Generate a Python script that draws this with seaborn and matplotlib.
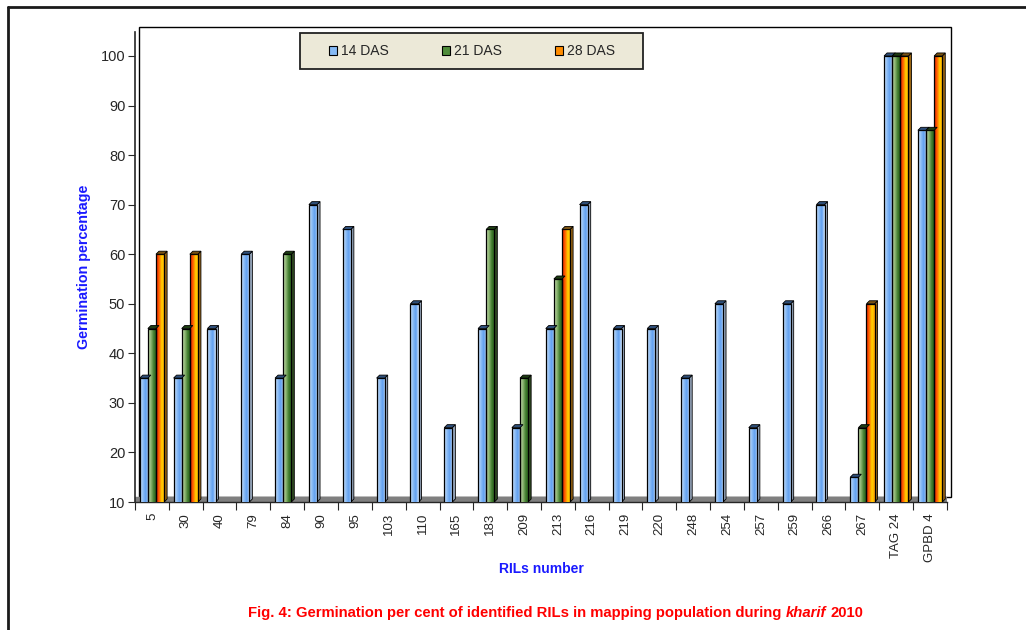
import numpy as np
import pandas as pd
import matplotlib
matplotlib.use("Agg")
import matplotlib.pyplot as plt
import matplotlib.transforms as mtransforms
from matplotlib.colors import LinearSegmentedColormap
from matplotlib.patches import Patch, Rectangle, Polygon
from matplotlib.lines import Line2D
import seaborn as sns

# ---- data -------------------------------------------------------------
rils = ["5", "30", "40", "79", "84", "90", "95", "103", "110", "165", "183",
        "209", "213", "216", "219", "220", "248", "254", "257", "259", "266",
        "267", "TAG 24", "GPBD 4"]
das14 = [35, 35, 45, 60, 35, 70, 65, 35, 50, 25, 45, 25, 45, 70, 45, 45, 35,
         50, 25, 50, 70, 15, 100, 85]
das21 = [45, 45, np.nan, np.nan, 60, np.nan, np.nan, np.nan, np.nan, np.nan,
         65, 35, 55, np.nan, np.nan, np.nan, np.nan, np.nan, np.nan, np.nan,
         np.nan, 25, 100, 85]
das28 = [60, 60, np.nan, np.nan, np.nan, np.nan, np.nan, np.nan, np.nan,
         np.nan, np.nan, np.nan, 65, np.nan, np.nan, np.nan, np.nan, np.nan,
         np.nan, np.nan, np.nan, 50, 100, 100]
series = ["14 DAS", "21 DAS", "28 DAS"]
yticks = [10, 20, 30, 40, 50, 60, 70, 80, 90, 100]

df = pd.DataFrame({"RIL": rils, series[0]: das14, series[1]: das21, series[2]: das28})
long = df.melt(id_vars="RIL", var_name="Stage", value_name="Germination")

# ---- style ------------------------------------------------------------
sns.set_style("white")
plt.rcParams["font.family"] = ["Liberation Sans", "DejaVu Sans"]

solid = ["#86baf5", "#4f8c3a", "#ff8c00"]
gradients = [
    ["#d2e5fb", "#8dbdf5", "#5f9ff0", "#d8e9fc"],
    ["#cadfb5", "#8cb572", "#3e7a2c", "#2a5e1c"],
    ["#e01800", "#ff6000", "#ffd400", "#ff9a00"],
]
top_cols = ["#2e4f7a", "#1d3d12", "#7a5212"]
side_cols = ["#9aaac0", "#2f4a22", "#9a6512"]
ymin, ymax = 10, 10 + 470 / 4.956
depth = 3  # pixel depth of the bar faces

fig = plt.figure(figsize=(10.26, 6.30), dpi=100)
ax = fig.add_axes([135 / 1026, 1 - 502 / 630, 812 / 1026, 470 / 630])

sns.barplot(data=long, x="RIL", y="Germination", hue="Stage",
            hue_order=series, order=rils, palette=solid, width=0.72,
            gap=0, edgecolor="black", linewidth=0.9, saturation=1,
            legend=False, ax=ax, zorder=3)

ax.set_ylim(ymin, ymax)
ax.set_xlim(-0.5, len(rils) - 0.5)


def shifted(xd, yd):
    """Point (xd, yd) moved by the face depth up and to the right."""
    px, py = ax.transData.transform((xd, yd))
    return ax.transData.inverted().transform((px + depth, py + depth))


# gradient fill inside each bar, plus its top and side faces
for container, cols, tc, sc in zip(ax.containers, gradients, top_cols, side_cols):
    cmap = LinearSegmentedColormap.from_list("g", cols)
    grad = np.linspace(0, 1, 64)[np.newaxis, :]
    for bar in container:
        h = bar.get_height()
        if not np.isfinite(h) or h <= ymin:
            continue
        x, w = bar.get_x(), bar.get_width()
        im = ax.imshow(grad, extent=[x, x + w, ymin, h], aspect="auto",
                       cmap=cmap, zorder=2.9, interpolation="bilinear")
        im.set_clip_path(bar)
        bar.set_facecolor("none")
        side = [(x + w, ymin), (x + w, h), shifted(x + w, h), shifted(x + w, ymin)]
        top = [(x, h), (x + w, h), shifted(x + w, h), shifted(x, h)]
        ax.add_patch(Polygon(side, closed=True, facecolor=sc, edgecolor="black",
                             linewidth=0.6, zorder=2.8))
        ax.add_patch(Polygon(top, closed=True, facecolor=tc, edgecolor="black",
                             linewidth=0.6, zorder=3.1, clip_on=False))

ax.set_ylim(ymin, ymax)
ax.set_xlim(-0.5, len(rils) - 0.5)
ax.set_aspect("auto")

# floor strip and back wall
ax.axhspan(10, 11, color="#7f7f7f", zorder=1)
wall_tr = mtransforms.offset_copy(ax.transAxes, fig=fig, x=4, y=5, units="dots")
ax.add_patch(Rectangle((0, 0), 1, 1, transform=wall_tr, fill=False,
                       edgecolor="black", linewidth=1.0, clip_on=False, zorder=0.5))

for s in ["top", "right"]:
    ax.spines[s].set_visible(False)
ax.spines["left"].set_linewidth(1.2)
ax.spines["bottom"].set_linewidth(1.0)

ax.set_yticks(yticks)
ax.set_yticklabels([str(v) for v in yticks], fontsize=10.5)
ax.tick_params(axis="y", direction="out", length=5, width=0.8, left=True, pad=2)

ax.set_xticks(range(len(rils)))
ax.set_xticklabels(rils, rotation=90, fontsize=9.5)
ax.set_xticks(np.arange(-0.5, len(rils)), minor=True)
ax.tick_params(axis="x", which="major", length=0, pad=8)
ax.tick_params(axis="x", which="minor", direction="out", length=6,
               width=0.8, bottom=True)

ax.set_xlabel("RILs number", fontsize=10, fontweight="bold", color="#1a1aff")
ax.set_ylabel("Germination percentage", fontsize=10.3, fontweight="bold",
              color="#1a1aff")
ax.xaxis.set_label_coords(0.5, (502 - 562) / 470)
ax.yaxis.set_label_coords((91 - 135) / 812, 0.5)

# legend box and entries
fig.add_artist(Rectangle((300 / 1026, 1 - 69 / 630), 343 / 1026, 36 / 630,
                         transform=fig.transFigure, facecolor="#ece9d8",
                         edgecolor="#222222", linewidth=1.3, zorder=4))
handles = [Patch(facecolor=c, edgecolor="black", linewidth=0.8) for c in solid]
leg = fig.legend(handles, series, loc="center", ncol=3,
                 bbox_to_anchor=(472 / 1026, 1 - 51 / 630),
                 fontsize=10, frameon=False,
                 handlelength=0.6, handleheight=0.6, handletextpad=0.3,
                 columnspacing=3.8, borderpad=0.2)
leg.set_zorder(5)

# caption
cy = 1 - 613 / 630
cap1 = fig.text(248 / 1026, cy,
                "Fig. 4: Germination per cent of identified RILs in mapping population during ",
                fontsize=10.7, fontweight="bold", color="#ff0000", va="center")
cap2 = fig.add_artist(plt.Annotation("kharif", xy=(1, 0.5), xycoords=cap1,
                                     va="center", ha="left", fontsize=10.7,
                                     fontweight="bold", fontstyle="italic",
                                     color="#ff0000"))
fig.add_artist(plt.Annotation("2010", xy=(1, 0.5), xycoords=cap2,
                              xytext=(3, 0), textcoords="offset points",
                              va="center", ha="left", fontsize=10.7,
                              fontweight="bold", color="#ff0000"))

# outer frame
fig.add_artist(Line2D([8 / 1026, 8 / 1026], [0, 1 - 7 / 630], color="#1a1a1a",
                      linewidth=2, transform=fig.transFigure))
fig.add_artist(Line2D([8 / 1026, 1], [1 - 7 / 630, 1 - 7 / 630], color="#1a1a1a",
                      linewidth=2, transform=fig.transFigure))

fig.savefig("out.png", dpi=100)
